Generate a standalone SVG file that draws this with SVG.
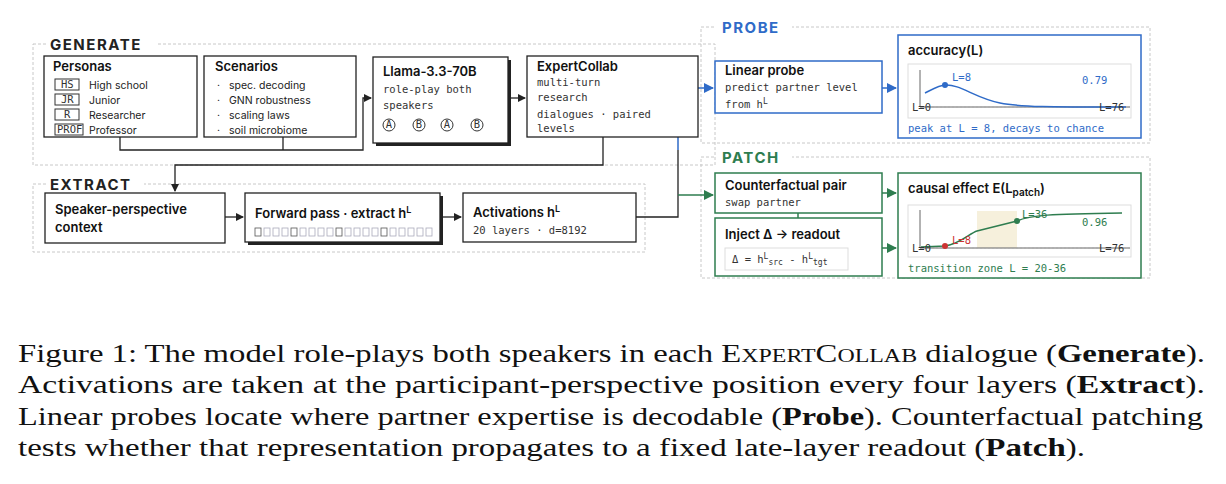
<svg xmlns="http://www.w3.org/2000/svg" width="1226" height="484" viewBox="0 0 1226 484">
<defs>
<style>
.fr{fill:none;stroke:#c8c8c8;stroke-dasharray:3 2;stroke-width:1}
.bx{fill:#fff;stroke:#222;stroke-width:1.3}
.bb{fill:#fff;stroke:#2f6bc8;stroke-width:1.5}
.bg{fill:#fff;stroke:#2e7d4f;stroke-width:1.5}
.sec{font-family:Inter,"Liberation Sans",sans-serif;font-weight:700;font-size:15px;letter-spacing:1.5px}
.t{font-family:Inter,"Liberation Sans",sans-serif;font-weight:600;font-size:13px;fill:#111}
.s{font-family:Inter,"Liberation Sans",sans-serif;font-size:10.5px;fill:#222}
.m{font-family:"DejaVu Sans Mono","Liberation Mono",monospace;font-size:10.5px;fill:#333}
.mb{fill:#2f6bc8}
.mg{fill:#2e7d4f}
.mr{fill:#c33}
.cap{font-family:"Liberation Serif",serif;font-size:26px;fill:#111}
.k{stroke:#222;fill:none;stroke-width:1.3}
.kb{stroke:#2f6bc8;fill:none;stroke-width:1.5}
.kg{stroke:#2e7d4f;fill:none;stroke-width:1.5}
</style>
<marker id="ak" markerWidth="8" markerHeight="8" refX="7" refY="4" orient="auto" markerUnits="userSpaceOnUse"><path d="M0,0L8,4L0,8z" fill="#222"/></marker>
<marker id="ab" markerWidth="10" markerHeight="10" refX="9" refY="5" orient="auto" markerUnits="userSpaceOnUse"><path d="M0,0L10,5L0,10z" fill="#2f6bc8"/></marker>
<marker id="ag" markerWidth="10" markerHeight="10" refX="9" refY="5" orient="auto" markerUnits="userSpaceOnUse"><path d="M0,0L10,5L0,10z" fill="#2e7d4f"/></marker>
</defs>
<rect width="1226" height="484" fill="#fff"/>
<rect class="fr" x="33" y="44" width="682" height="121"/>
<rect x="46" y="34" width="112" height="18" fill="#fff"/>
<text class="sec" x="50" y="50" fill="#222">GENERATE</text>
<rect class="fr" x="33" y="184" width="612" height="68"/>
<rect x="46" y="174" width="98" height="18" fill="#fff"/>
<text class="sec" x="50" y="190" fill="#222">EXTRACT</text>
<rect class="fr" x="701" y="27" width="449" height="116"/>
<rect x="716" y="17" width="76" height="18" fill="#fff"/>
<text class="sec" x="722" y="33" fill="#2f6bc8">PROBE</text>
<rect class="fr" x="701" y="157" width="449" height="121"/>
<rect x="716" y="147" width="76" height="18" fill="#fff"/>
<text class="sec" x="722" y="163" fill="#2e7d4f">PATCH</text>
<g id="connectors">
<path class="k" d="M120,137V150H363V98H371" marker-end="url(#ak)"/>
<path class="k" d="M283,137V150"/>
<path class="k" d="M508,98H525" marker-end="url(#ak)"/>
<path class="k" d="M603,137V165H175V191" marker-end="url(#ak)"/>
<path class="k" d="M225,217H243" marker-end="url(#ak)"/>
<path class="k" d="M440,217H461" marker-end="url(#ak)"/>
<path class="k" d="M636,217H678V150"/>
<path class="kb" d="M678,150V88H713" marker-end="url(#ab)"/>
<path class="kg" d="M678,195H713" marker-end="url(#ag)"/>
<path class="kb" d="M882,88H896" marker-end="url(#ab)"/>
<path class="kg" d="M882,193H896" marker-end="url(#ag)"/>
<path class="kg" d="M882,248H896" marker-end="url(#ag)"/>
<path d="M798,213V218" stroke="#2e7d4f" stroke-width="1.5"/>
</g>
<g id="personas">
<rect class="bx" x="44" y="56" width="153" height="81"/>
<text class="t" x="53" y="71">Personas</text>
<g class="m" font-size="8.5">
<rect x="55" y="79" width="24" height="11" fill="none" stroke="#333"/><text x="61" y="88">HS</text>
<rect x="55" y="94" width="24" height="11" fill="none" stroke="#333"/><text x="61" y="103">JR</text>
<rect x="55" y="109" width="24" height="11" fill="none" stroke="#333"/><text x="64" y="118">R</text>
<rect x="55" y="124" width="28" height="11" fill="none" stroke="#333"/><text x="57" y="133">PROF</text>
</g>
<text class="s" x="89" y="89">High school</text>
<text class="s" x="89" y="104">Junior</text>
<text class="s" x="89" y="119">Researcher</text>
<text class="s" x="89" y="134">Professor</text>
</g>
<g id="scenarios">
<rect class="bx" x="204" y="56" width="152" height="81"/>
<text class="t" x="215" y="71">Scenarios</text>
<g class="s"><text x="217" y="89">·</text><text x="229" y="89">spec. decoding</text>
<text x="217" y="104">·</text><text x="229" y="104">GNN robustness</text>
<text x="217" y="119">·</text><text x="229" y="119">scaling laws</text>
<text x="217" y="134">·</text><text x="229" y="134">soil microbiome</text></g>
</g>
<g id="llama">
<rect x="376" y="60" width="135" height="86" fill="#222"/>
<rect class="bx" x="373" y="57" width="135" height="86"/>
<text class="t" x="383" y="76">Llama-3.3-70B</text>
<text class="m" x="383" y="93">role-play both</text>
<text class="m" x="383" y="109">speakers</text>
<g class="m" font-size="8" text-anchor="middle">
<circle cx="389" cy="125" r="6" fill="none" stroke="#333"/><text x="389" y="128">A</text>
<circle cx="419" cy="125" r="6" fill="none" stroke="#333"/><text x="419" y="128">B</text>
<circle cx="447" cy="125" r="6" fill="none" stroke="#333"/><text x="447" y="128">A</text>
<circle cx="477" cy="125" r="6" fill="none" stroke="#333"/><text x="477" y="128">B</text>
</g>
</g>
<g id="expertcollab">
<rect class="bx" x="527" y="56" width="171" height="81"/>
<text class="t" x="537" y="71">ExpertCollab</text>
<text class="m" x="537" y="86">multi-turn</text>
<text class="m" x="537" y="101">research</text>
<text class="m" x="537" y="118">dialogues · paired</text>
<text class="m" x="537" y="132">levels</text>
</g>
<g id="speaker">
<rect class="bx" x="45" y="193" width="180" height="50"/>
<text class="t" x="55" y="214">Speaker-perspective</text>
<text class="t" x="55" y="232">context</text>
</g>
<g id="forward">
<rect x="248" y="196" width="195" height="49" fill="#222"/>
<rect class="bx" x="245" y="193" width="195" height="49"/>
<text class="t" x="255" y="218">Forward pass · extract h<tspan font-size="9" dy="-5">L</tspan></text>
<g fill="none" stroke="#aab" stroke-width="0.8">
<rect x="255" y="228" width="6" height="8" stroke="#555"/><rect x="264" y="228" width="6" height="8"/><rect x="273" y="228" width="6" height="8"/><rect x="282" y="228" width="6" height="8"/><rect x="291" y="228" width="6" height="8" stroke="#555"/>
<rect x="300" y="228" width="6" height="8"/><rect x="309" y="228" width="6" height="8"/><rect x="318" y="228" width="6" height="8"/><rect x="327" y="228" width="6" height="8"/><rect x="336" y="228" width="6" height="8" stroke="#555"/>
<rect x="345" y="228" width="6" height="8"/><rect x="354" y="228" width="6" height="8"/><rect x="363" y="228" width="6" height="8"/><rect x="372" y="228" width="6" height="8"/><rect x="381" y="228" width="6" height="8" stroke="#555"/>
<rect x="390" y="228" width="6" height="8"/><rect x="399" y="228" width="6" height="8"/><rect x="408" y="228" width="6" height="8"/><rect x="417" y="228" width="6" height="8"/><rect x="426" y="228" width="6" height="8"/>
</g>
</g>
<g id="activations">
<rect class="bx" x="463" y="193" width="173" height="49"/>
<text class="t" x="473" y="217">Activations h<tspan font-size="9" dy="-5">L</tspan></text>
<text class="m" x="473" y="234">20 layers · d=8192</text>
</g>
<g id="linearprobe">
<rect class="bb" x="715" y="61" width="167" height="52"/>
<text class="t" x="725" y="75">Linear probe</text>
<text class="m" x="725" y="91">predict partner level</text>
<text class="m" x="725" y="108">from h<tspan font-size="8" dy="-4">L</tspan></text>
</g>
<g id="accuracy">
<rect class="bb" x="898" y="35" width="243" height="103"/>
<text class="t" x="908" y="55">accuracy(L)</text>
<rect x="908" y="64" width="223" height="54" fill="#fff" stroke="#ddd"/>
<path d="M920,70V107H1130" stroke="#666" fill="none" stroke-width="1"/>
<path d="M920,107H1130" stroke="#aaa" stroke-dasharray="2 2"/>
<path d="M925,93C933,89 940,85 945,85C960,84 975,98 1000,103C1020,107 1050,107 1126,107" class="kb" stroke-width="2"/>
<circle cx="945" cy="85" r="3" fill="#2f6bc8"/>
<text class="m mb" x="952" y="81" font-size="9">L=8</text>
<text class="m" x="912" y="111" font-size="9">L=0</text>
<text class="m" x="1099" y="111" font-size="9">L=76</text>
<text class="m mb" x="1082" y="84" font-size="18">0.79</text>
<text class="m mb" x="908" y="132">peak at L = 8, decays to chance</text>
</g>
<g id="counterfactual">
<rect class="bg" x="715" y="173" width="167" height="40"/>
<text class="t" x="725" y="190">Counterfactual pair</text>
<text class="m" x="725" y="206">swap partner</text>
</g>
<g id="inject">
<rect class="bg" x="715" y="218" width="167" height="58"/>
<text class="t" x="725" y="239">Inject Δ → readout</text>
<rect x="725" y="248" width="123" height="22" fill="#fff" stroke="#ddd"/>
<text class="m" x="732" y="263">Δ = h<tspan font-size="8" dy="-4">L</tspan><tspan font-size="8" dy="6">src</tspan><tspan dy="-2"> - h</tspan><tspan font-size="8" dy="-4">L</tspan><tspan font-size="8" dy="6">tgt</tspan></text>
</g>
<g id="causal">
<rect class="bg" x="898" y="173" width="243" height="105"/>
<text class="t" x="908" y="193">causal effect E(L<tspan font-size="10" dy="3">patch</tspan><tspan dy="-3">)</tspan></text>
<rect x="908" y="205" width="223" height="52" fill="#fff" stroke="#ddd"/>
<rect x="977" y="211" width="40" height="37" fill="#f6f0dc"/>
<path d="M920,210V248H1130" stroke="#666" fill="none" stroke-width="1"/>
<path d="M920,248H1130" stroke="#aaa" stroke-dasharray="2 2"/>
<path d="M921,247L945,246C960,244 970,233 977,231L1017,221C1030,215 1050,214 1122,213" class="kg" stroke-width="2"/>
<circle cx="945" cy="246" r="3" fill="#c33"/>
<circle cx="1017" cy="221" r="3" fill="#2e7d4f"/>
<text class="m mr" x="952" y="244" font-size="9">L=8</text>
<text class="m mg" x="1022" y="218" font-size="9">L=36</text>
<text class="m" x="912" y="252" font-size="9">L=0</text>
<text class="m" x="1099" y="252" font-size="9">L=76</text>
<text class="m mg" x="1082" y="226" font-size="18">0.96</text>
<text class="m mg" x="908" y="272">transition zone L = 20-36</text>
</g>
<g class="cap">
<text x="18" y="362" textLength="1187" lengthAdjust="spacingAndGlyphs">Figure 1: The model role-plays both speakers in each E<tspan font-size="19">XPERT</tspan>C<tspan font-size="19">OLLAB</tspan> dialogue (<tspan font-weight="700">Generate</tspan>).</text>
<text x="18" y="393" textLength="1187" lengthAdjust="spacingAndGlyphs">Activations are taken at the participant-perspective position every four layers (<tspan font-weight="700">Extract</tspan>).</text>
<text x="18" y="425" textLength="1185" lengthAdjust="spacingAndGlyphs">Linear probes locate where partner expertise is decodable (<tspan font-weight="700">Probe</tspan>). Counterfactual patching</text>
<text x="18" y="456" textLength="1067" lengthAdjust="spacingAndGlyphs">tests whether that representation propagates to a fixed late-layer readout (<tspan font-weight="700">Patch</tspan>).</text>
</g>
</svg>
